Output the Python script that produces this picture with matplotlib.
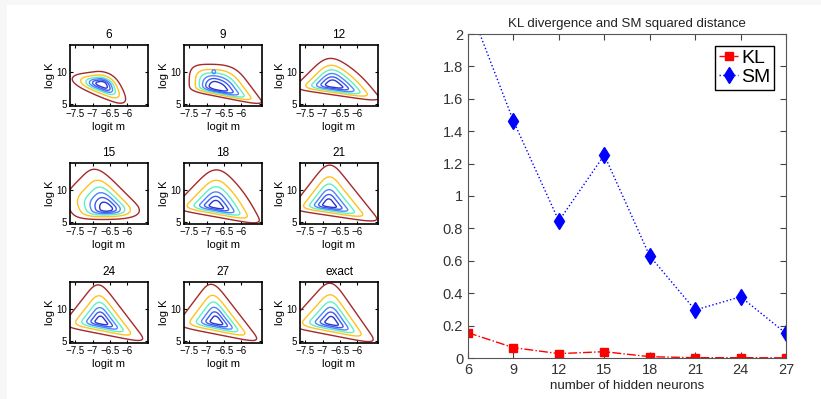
import numpy as np
import matplotlib
matplotlib.use("Agg")
from matplotlib import pyplot as plt
from matplotlib.patches import Rectangle
from matplotlib.ticker import FormatStrFormatter

plt.rcParams['font.family'] = ['Liberation Sans', 'DejaVu Sans']

# right plot: divergences vs number of hidden neurons
neurons = [6, 9, 12, 15, 18, 21, 24, 27]
kl = [0.156, 0.064, 0.027, 0.039, 0.008, 0.002, 0.002, 0.001]
sm = [2.19, 1.463, 0.846, 1.253, 0.630, 0.296, 0.378, 0.152]

# left plots: posterior over (logit m, log K), outer contour outline + mode
panelTitles = ['6', '9', '12', '15', '18', '21', '24', '27', 'exact']
outlines = [
    [(-7.95, 9.3), (-7.35, 10.5), (-6.47, 10.5), (-5.8, 4.3), (-6.25, 4.3)],
    [(-7.5, 11.2), (-6.2, 11.2), (-5.3, 4.7), (-7.5, 7.05)],
    [(-6.85, 12.8), (-6.1, 11.1), (-5.25, 5.3), (-7.87, 7.36)],
    [(-6.92, 14.2), (-5.5, 6.55), (-5.9, 5.4), (-7.45, 5.4), (-7.95, 8.5)],
    [(-6.75, 14.1), (-6.0, 11.3), (-5.38, 4.48), (-8.01, 7.05)],
    [(-6.8, 14.9), (-5.3, 4.8), (-7.94, 6.93)],
    [(-6.83, 14.7), (-5.41, 4.67), (-7.9, 7.32)],
    [(-6.86, 14.8), (-5.41, 4.67), (-7.9, 7.32)],
    [(-6.76, 15.0), (-5.4, 4.49), (-8.05, 7.27)],
]
modes = [(-6.72, 8.1), (-6.72, 7.61), (-6.69, 7.97), (-6.59, 7.0), (-6.72, 7.5),
         (-6.83, 7.66), (-6.76, 8.0), (-6.72, 8.0), (-6.74, 7.9)]
levelSpread = [1.1, 1.0, 1.1, 1.2, 1.25, 1.3, 1.3, 1.3, 1.3]
roundScale = [0.5, 1.0, 1.0, 1.0, 1.0, 1.0, 1.0, 1.0, 1.0]
blobs = [None, (-6.79, 10.04), None, None, None, None, None, None, None]

levelFrac = [1.0, 0.776, 0.631, 0.509, 0.394, 0.266]
roundness = [4.5, 4.0, 3.5, 3.0, 2.5, 2.2]
contourColors = ['#a52a2a', '#ffc21e', '#5ff2c0', '#4f86ff', '#3a5cf0', '#2a36d2']

W, H = 821, 399
fig = plt.figure(figsize=(W / 100, H / 100), dpi=100, facecolor='#f7f7f7')
fig.patches.append(Rectangle((7 / W, 0), 1, 1 - 5 / H, transform=fig.transFigure,
                             facecolor='white', edgecolor='none', zorder=-10))


def box(x0, top, w, h):
    return [x0 / W, 1 - (top + h) / H, w / W, h / H]


m = np.linspace(-7.75, -5.3, 300)
v = np.linspace(4.4, 14.5, 300)
M, V = np.meshgrid(m, v)


def gauge(verts, peak, p):
    g = np.zeros_like(M)
    n = len(verts)
    for k in range(n):
        (x1, y1), (x2, y2) = verts[k], verts[(k + 1) % n]
        fP = (x2 - x1) * (peak[1] - y1) - (y2 - y1) * (peak[0] - x1)
        f = (x2 - x1) * (V - y1) - (y2 - y1) * (M - x1)
        g += np.clip(1 - f / fP, 0, None) ** p
    return g ** (1.0 / p)


colLeft = [70, 184, 300]
rowTop = [45, 163, 282]
for i in range(9):
    r, c = divmod(i, 3)
    ax = fig.add_axes(box(colLeft[c], rowTop[r], 78, 61))
    for k in range(len(levelFrac)):
        p = max(1.8, roundness[k] * roundScale[i])
        g = gauge(outlines[i], modes[i], p)
        ax.contour(M, V, g, levels=[levelFrac[k] ** levelSpread[i]],
                   colors=[contourColors[k]], linewidths=1.0)
    if blobs[i] is not None:
        bm, bv = blobs[i]
        d = np.hypot((M - bm) / 0.05, (V - bv) / 0.3)
        ax.contour(M, V, d, levels=[1.0], colors=[contourColors[3]], linewidths=1.0)
    ax.set_xlim(-7.65, -5.4)
    ax.set_ylim(4.7, 14.2)
    ax.set_xticks([-7.5, -7, -6.5, -6])
    ax.set_xticklabels(['\u22127.5', '\u22127', '\u22126.5', '\u22126'])
    ax.set_yticks([5, 10])
    ax.tick_params(direction='in', length=2, labelsize=7, pad=2, top=True, right=True)
    for sp in ax.spines.values():
        sp.set_linewidth(1.2)
    ax.set_title(panelTitles[i], fontsize=8.5, pad=5)
    ax.set_xlabel('logit m', fontsize=8, labelpad=2)
    ax.set_ylabel('log K', fontsize=8, labelpad=1)

# right panel
ax = fig.add_axes(box(468, 34, 318, 324))
ax.plot(neurons, kl, color='red', linestyle='-.', marker='s', markersize=5.5,
        linewidth=1.0, label='KL')
ax.plot(neurons, sm, color='blue', linestyle=':', marker='d', markersize=8.5,
        linewidth=1.0, label='SM')
ax.set_xlim(6, 27)
ax.set_ylim(0, 2)
ax.set_xticks(neurons)
ax.set_yticks(np.arange(0, 2.01, 0.2))
ax.yaxis.set_major_formatter(FormatStrFormatter('%g'))
ax.tick_params(direction='in', length=4, labelsize=10.5, top=True, right=True,
               color='#444444', labelcolor='#333333')
for sp in ax.spines.values():
    sp.set_color('#555555')
    sp.set_linewidth(0.8)
ax.set_title('KL divergence and SM squared distance', fontsize=9.5, color='#222222', pad=5)
ax.set_xlabel('number of hidden neurons', fontsize=9.5, color='#222222', labelpad=2)
leg = ax.legend(loc='upper right', fontsize=14, fancybox=False, framealpha=1,
                edgecolor='black', handlelength=1.0, handletextpad=0.15,
                borderpad=0.2, labelspacing=0.05, borderaxespad=0.6)
leg.get_frame().set_linewidth(1.0)

fig.savefig('out.png', dpi=100, facecolor=fig.get_facecolor())
